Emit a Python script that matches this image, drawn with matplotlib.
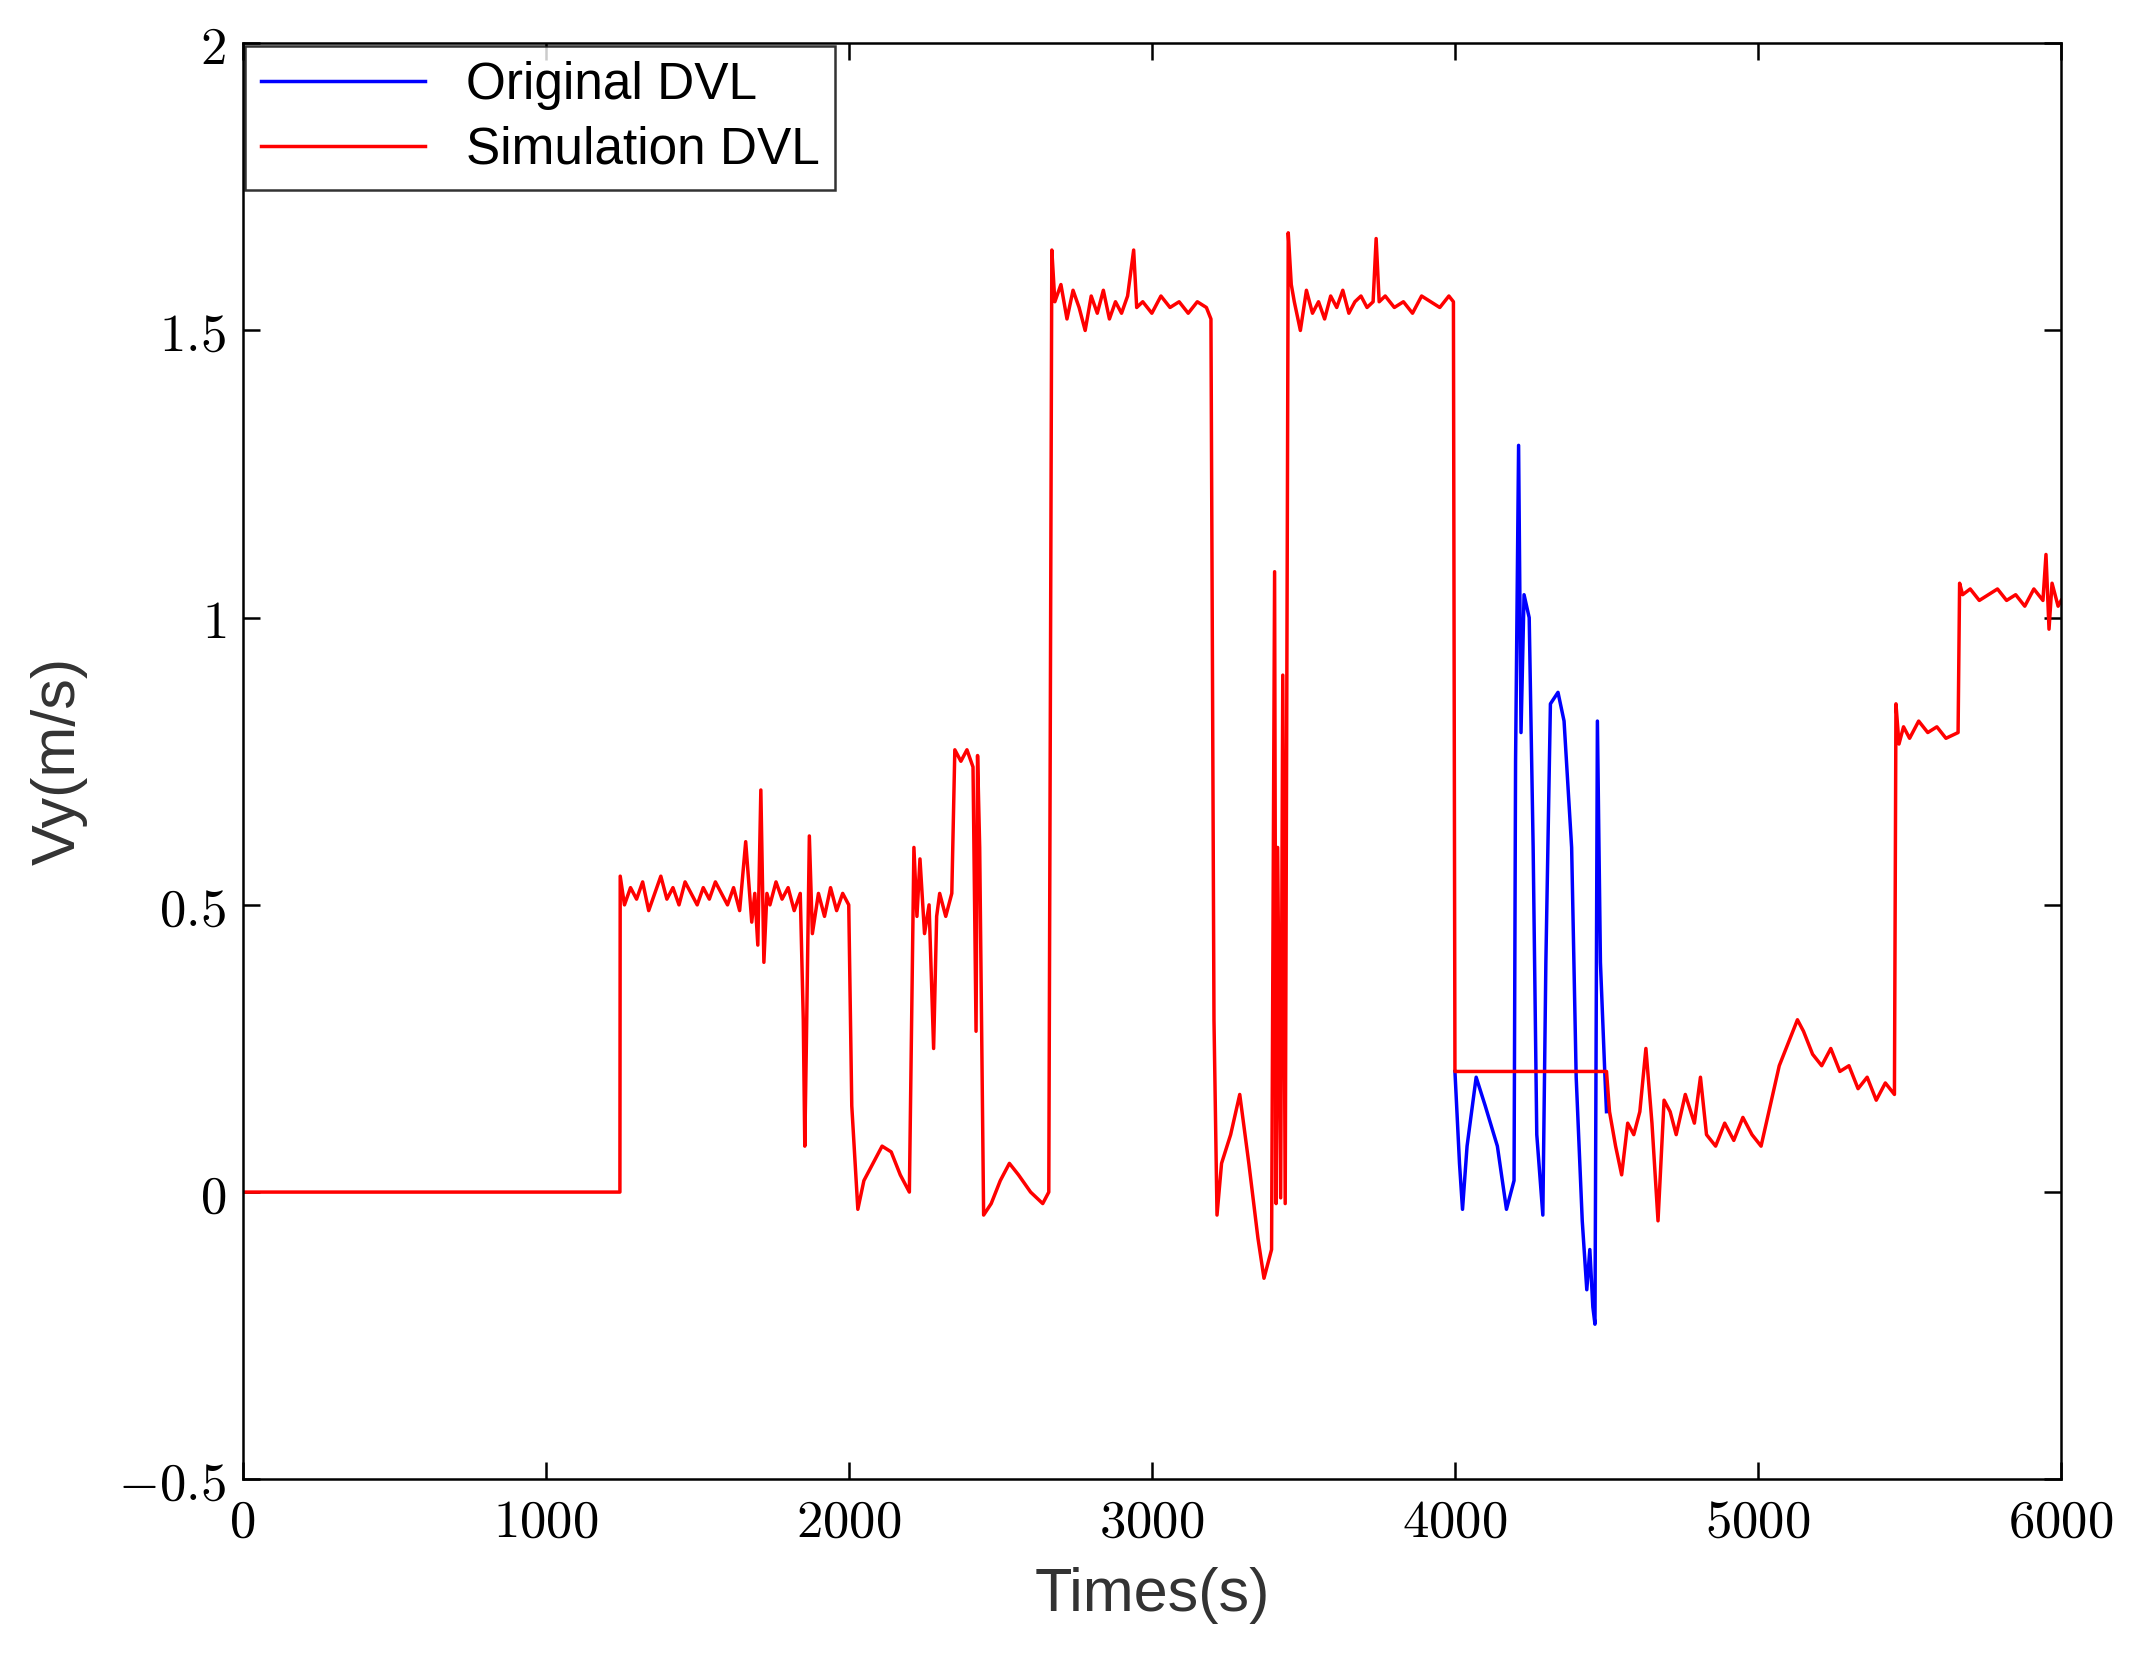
import matplotlib
matplotlib.use("Agg")
import matplotlib.pyplot as plt
from matplotlib.ticker import FuncFormatter

plt.rcParams['mathtext.fontset'] = 'cm'

sim_t = [0, 1245, 1246, 1260, 1280, 1300, 1320, 1340, 1360, 1380, 1400, 1420, 1440, 1460, 1480, 1500,
         1520, 1540, 1560, 1580, 1600, 1620, 1640, 1660, 1680, 1690, 1700, 1710, 1720, 1730, 1740, 1760,
         1780, 1800, 1820, 1840, 1850, 1855, 1860, 1870, 1880, 1900, 1920, 1940, 1960, 1980, 2000, 2010,
         2030, 2050, 2080, 2110, 2140, 2170, 2200, 2215, 2225, 2235, 2250, 2265, 2280, 2290, 2300, 2320,
         2340, 2350, 2370, 2390, 2410, 2420, 2425, 2432, 2445, 2470, 2500, 2530, 2560, 2600, 2640, 2660,
         2670, 2680, 2700, 2720, 2740, 2760, 2780, 2800, 2820, 2840, 2860, 2880, 2900, 2920, 2940, 2950,
         2970, 3000, 3030, 3060, 3090, 3120, 3150, 3180, 3195, 3205, 3215, 3230, 3260, 3290, 3320, 3350,
         3370, 3395, 3405, 3410, 3415, 3425, 3432, 3440, 3450, 3460, 3470, 3490, 3510, 3530, 3550, 3570,
         3590, 3610, 3630, 3650, 3670, 3690, 3710, 3730, 3740, 3750, 3770, 3800, 3830, 3860, 3890, 3920,
         3950, 3980, 3995, 4000, 4001, 4500, 4510, 4530, 4550, 4570, 4590, 4610, 4630, 4650, 4670, 4690,
         4710, 4730, 4760, 4790, 4810, 4830, 4860, 4890, 4920, 4950, 4980, 5010, 5040, 5070, 5100, 5130,
         5150, 5180, 5210, 5240, 5270, 5300, 5330, 5360, 5390, 5420, 5450, 5455, 5465, 5480, 5500, 5530,
         5560, 5590, 5620, 5660, 5665, 5675, 5700, 5730, 5760, 5790, 5820, 5850, 5880, 5910, 5940, 5950,
         5960, 5970, 5990, 6000]
sim_v = [0, 0, 0.55, 0.50, 0.53, 0.51, 0.54, 0.49, 0.52, 0.55, 0.51, 0.53, 0.50, 0.54, 0.52, 0.50,
         0.53, 0.51, 0.54, 0.52, 0.50, 0.53, 0.49, 0.61, 0.47, 0.52, 0.43, 0.70, 0.40, 0.52, 0.50, 0.54,
         0.51, 0.53, 0.49, 0.52, 0.30, 0.08, 0.25, 0.62, 0.45, 0.52, 0.48, 0.53, 0.49, 0.52, 0.50, 0.15,
         -0.03, 0.02, 0.05, 0.08, 0.07, 0.03, 0.0, 0.60, 0.48, 0.58, 0.45, 0.50, 0.25, 0.48, 0.52, 0.48,
         0.52, 0.77, 0.75, 0.77, 0.74, 0.28, 0.76, 0.60, -0.04, -0.02, 0.02, 0.05, 0.03, 0.0, -0.02, 0.0,
         1.64, 1.55, 1.58, 1.52, 1.57, 1.54, 1.50, 1.56, 1.53, 1.57, 1.52, 1.55, 1.53, 1.56, 1.64, 1.54,
         1.55, 1.53, 1.56, 1.54, 1.55, 1.53, 1.55, 1.54, 1.52, 0.30, -0.04, 0.05, 0.10, 0.17, 0.05, -0.08,
         -0.15, -0.10, 1.08, -0.02, 0.60, -0.01, 0.90, -0.02, 1.67, 1.58, 1.55, 1.50, 1.57, 1.53, 1.55, 1.52,
         1.56, 1.54, 1.57, 1.53, 1.55, 1.56, 1.54, 1.55, 1.66, 1.55, 1.56, 1.54, 1.55, 1.53, 1.56, 1.55,
         1.54, 1.56, 1.55, 0.21, 0.21, 0.21, 0.14, 0.08, 0.03, 0.12, 0.10, 0.14, 0.25, 0.12, -0.05, 0.16,
         0.14, 0.10, 0.17, 0.12, 0.20, 0.10, 0.08, 0.12, 0.09, 0.13, 0.10, 0.08, 0.15, 0.22, 0.26, 0.30,
         0.28, 0.24, 0.22, 0.25, 0.21, 0.22, 0.18, 0.20, 0.16, 0.19, 0.17, 0.85, 0.78, 0.81, 0.79, 0.82,
         0.80, 0.81, 0.79, 0.80, 1.06, 1.04, 1.05, 1.03, 1.04, 1.05, 1.03, 1.04, 1.02, 1.05, 1.03, 1.11,
         0.98, 1.06, 1.02, 1.03]

orig_t = [4000, 4015, 4025, 4040, 4070, 4100, 4140, 4170, 4185, 4195, 4200, 4210, 4218, 4228, 4245,
          4258, 4270, 4290, 4300, 4315, 4340, 4360, 4385, 4400, 4420, 4435, 4445, 4455, 4462, 4470, 4480,
          4495, 4500]
orig_v = [0.21, 0.05, -0.03, 0.08, 0.20, 0.15, 0.08, -0.03, 0.0, 0.02, 0.75, 1.30, 0.80, 1.04, 1.00,
          0.60, 0.10, -0.04, 0.40, 0.85, 0.87, 0.82, 0.60, 0.20, -0.05, -0.17, -0.10, -0.20, -0.23, 0.82,
          0.40, 0.20, 0.14]

x_ticks = [0, 1000, 2000, 3000, 4000, 5000, 6000]
y_ticks = [-0.5, 0, 0.5, 1, 1.5, 2]

fig = plt.figure(figsize=(21.37, 16.64), dpi=100)
ax = fig.add_axes([0.1135, 0.111, 0.851, 0.863])
ax.plot(orig_t, orig_v, color='#0000ff', lw=2.5, label='Original DVL')
ax.plot(sim_t, sim_v, color='#ff0000', lw=2.5, label='Simulation DVL')
ax.set_xlim(0, 6000)
ax.set_ylim(-0.5, 2)
ax.set_xticks(x_ticks)
ax.set_yticks(y_ticks)

def fmt(v, p):
    return '$' + ('%g' % v) + '$'
ax.xaxis.set_major_formatter(FuncFormatter(fmt))
ax.yaxis.set_major_formatter(FuncFormatter(fmt))
ax.tick_params(labelsize=38, direction='in', length=12, width=1.8, top=True, right=True, pad=12)
for s in ax.spines.values():
    s.set_linewidth(1.8)
ax.set_xlabel('Times(s)', fontsize=44, family='Liberation Sans', color='#333333', labelpad=14)
ax.set_ylabel('Vy(m/s)', fontsize=44, family='Liberation Sans', color='#333333', labelpad=22)
leg = ax.legend(loc='upper left', prop={'family': 'Liberation Sans', 'size': 37},
                fancybox=False, edgecolor='black', borderaxespad=0.05, handlelength=3.2,
                borderpad=0.3, labelspacing=0.3)
leg.get_frame().set_linewidth(1.8)
fig.savefig('out.png')
